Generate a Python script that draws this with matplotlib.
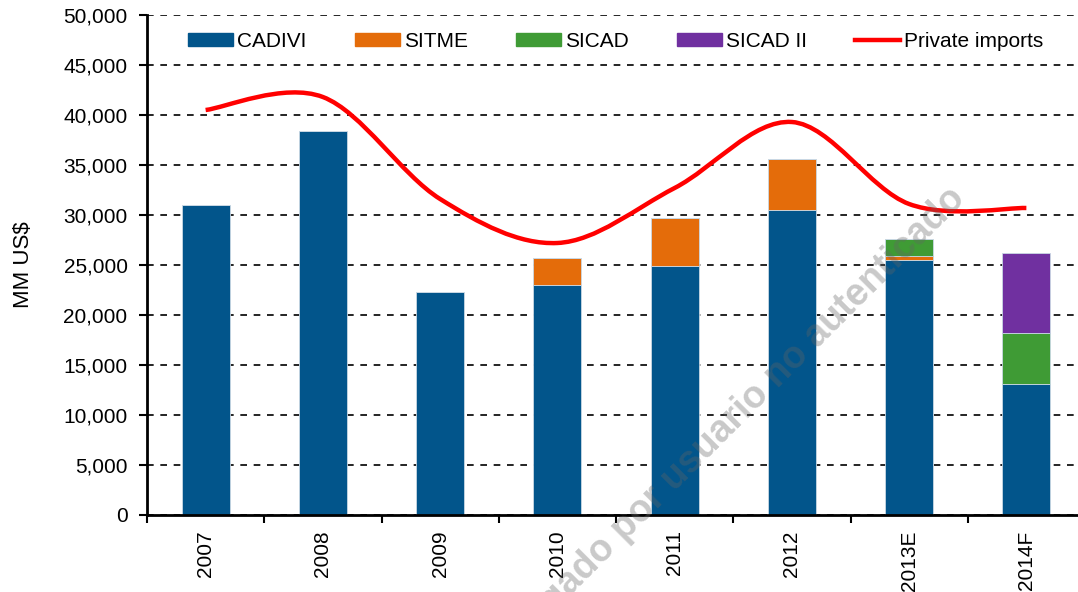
import matplotlib
matplotlib.use("Agg")
import matplotlib.pyplot as plt
import numpy as np
from matplotlib.path import Path
from matplotlib.patches import PathPatch
from matplotlib.lines import Line2D
from matplotlib.patches import Patch

plt.rcParams['font.family'] = ['Liberation Sans', 'DejaVu Sans']

years = ["2007", "2008", "2009", "2010", "2011", "2012", "2013E", "2014F"]
cadivi = [31000, 38400, 22300, 23000, 24900, 30500, 25500, 13100]
sitme = [0, 0, 0, 2700, 4800, 5100, 400, 0]
sicad = [0, 0, 0, 0, 0, 0, 1700, 5100]
sicad2 = [0, 0, 0, 0, 0, 0, 0, 8000]
private_imports = [40500, 41800, 31600, 27200, 32700, 39300, 31100, 30700]

colors = {"CADIVI": "#02558B", "SITME": "#E46C0A", "SICAD": "#3F9B35",
          "SICAD II": "#7030A0"}

fig = plt.figure(figsize=(10.78, 5.92), dpi=100)
ax = fig.add_axes([147/1078, 77/592, 938/1078, 500/592])

x = np.arange(len(years))
w = 0.41
bottom = np.zeros(len(years))
for name, vals in [("CADIVI", cadivi), ("SITME", sitme), ("SICAD", sicad),
                   ("SICAD II", sicad2)]:
    vals = np.array(vals, dtype=float)
    ax.bar(x, vals, w, bottom=bottom, color=colors[name], edgecolor="#c9d8e4",
           linewidth=0.6, zorder=3)
    bottom += vals

# smoothed line (Catmull-Rom as cubic Bezier, like Excel's smoothed line)
pts = np.column_stack([x, private_imports]).astype(float)
n = len(pts)
verts = [pts[0]]
codes = [Path.MOVETO]
for i in range(n - 1):
    p0 = pts[i - 1] if i > 0 else pts[i]
    p1 = pts[i]
    p2 = pts[i + 1]
    p3 = pts[i + 2] if i + 2 < n else pts[i + 1]
    c1 = p1 + (p2 - p0) / 6
    c2 = p2 - (p3 - p1) / 6
    verts += [c1, c2, p2]
    codes += [Path.CURVE4] * 3
ax.add_patch(PathPatch(Path(verts, codes), facecolor="none", edgecolor="#FF0000",
                       linewidth=3.2, zorder=4, capstyle="butt"))

ax.set_xlim(-0.5, len(years) - 0.5)
ax.set_ylim(0, 50000)
ax.set_yticks(np.arange(0, 50001, 5000))
ax.set_yticklabels([f"{v:,}" for v in range(0, 50001, 5000)], fontsize=15)
ax.set_xticks(x)
ax.set_xticklabels(years, rotation=90, fontsize=15)
ax.set_xticks(np.arange(-0.5, len(years), 1), minor=True)
ax.tick_params(axis="x", which="major", length=0, pad=11)
ax.tick_params(axis="x", which="minor", length=6, width=1.5, direction="out")
ax.tick_params(axis="y", length=6, width=1.5, direction="out", pad=8)
ax.yaxis.grid(True, color="black", linestyle=(0, (4, 4)), linewidth=1.2, zorder=1)
ax.set_axisbelow(True)
for s in ["top", "right"]:
    ax.spines[s].set_visible(False)
for s in ["left", "bottom"]:
    ax.spines[s].set_linewidth(2)
    ax.spines[s].set_zorder(5)
ax.set_ylabel("MM US$", fontsize=16, labelpad=21)

handles = [Patch(color=colors[k]) for k in ["CADIVI", "SITME", "SICAD", "SICAD II"]]
handles.append(Line2D([], [], color="#FF0000", linewidth=3.2))
leg = fig.legend(handles, ["CADIVI", "SITME", "SICAD", "SICAD II", "Private imports"],
                 loc="upper left", bbox_to_anchor=(186/1078, 1 - 30/592), ncol=5,
                 frameon=True, fontsize=15, handlelength=2.15, handleheight=0.6,
                 handletextpad=0.2, columnspacing=2.32, borderpad=0.1,
                 borderaxespad=0)
leg.get_frame().set_edgecolor("none")
leg.get_frame().set_facecolor("white")
leg.get_frame().set_alpha(1)
leg.set_zorder(6)

fig.text(966/1078, 1 - 200/592, "descargado por usuario no autenticado",
         rotation=45, rotation_mode="anchor", ha="right", va="baseline",
         fontsize=27, fontweight="bold", color="#646464", alpha=0.35, zorder=7)

fig.savefig("out.png", dpi=100)
